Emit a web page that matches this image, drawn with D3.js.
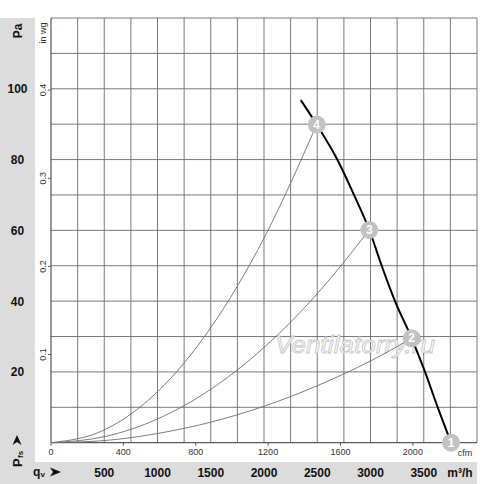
<!DOCTYPE html>
<html>
<head>
<meta charset="utf-8">
<script src="https://cdn.jsdelivr.net/npm/d3@7"></script>
<style>
  html, body { margin: 0; padding: 0; background: #fff; }
  svg { display: block; font-family: "Liberation Sans", Arial, sans-serif; }
</style>
</head>
<body>
<div id="chart"></div>
<script>
// flow in m³/h, pressure in Pa
const flowTicks = [500, 1000, 1500, 2000, 2500, 3000, 3500];
const cfmTicks = [0, 400, 800, 1200, 1600, 2000];
const paTicks = [20, 40, 60, 80, 100];
const inwgTicks = [0.1, 0.2, 0.3, 0.4];

const fanFlow = [2345, 2495, 2688, 2845, 2989, 3105, 3230, 3387, 3512, 3631, 3756];
const fanPressure = [96.8, 89.9, 80, 70, 60.1, 50, 40, 29.5, 20, 10, 0];

// system curves
const sys4Flow = [0, 500, 1000, 1500, 2000, 2495];
const sys4Pressure = [0, 3.6, 14.4, 32.5, 57.8, 89.9];
const sys3Flow = [0, 500, 1000, 1500, 2000, 2500, 2989];
const sys3Pressure = [0, 1.7, 6.7, 15.1, 26.9, 42.1, 60.1];
const sys2Flow = [0, 500, 1000, 1500, 2000, 2500, 3000, 3387];
const sys2Pressure = [0, 0.6, 2.6, 5.8, 10.3, 16.1, 23.1, 29.5];

const pointLabels = ["1", "2", "3", "4"];
const pointFlow = [3756, 3387, 2989, 2495];
const pointPressure = [0, 29.5, 60.1, 89.9];

const width = 500;
const height = 484;
const plot = { left: 51, right: 477, top: 18, bottom: 442.7 };

const maxFlow = 4000;
const maxPa = 120;

const x = d3.scaleLinear().domain([0, maxFlow]).range([plot.left, plot.right]);
const xCfm = d3.scaleLinear().domain([0, maxFlow / 1.699]).range([plot.left, plot.right]);
const y = d3.scaleLinear().domain([0, maxPa]).range([plot.bottom, plot.top]);
const yInwg = d3.scaleLinear().domain([0, maxPa / 249.09]).range([plot.bottom, plot.top]);

const svg = d3.select("#chart")
  .append("svg")
  .attr("width", width)
  .attr("height", height);

// gray label bands
svg.append("rect")
  .attr("x", 0).attr("y", plot.top)
  .attr("width", 35).attr("height", height - plot.top)
  .attr("fill", "#dcdcdc");

svg.append("rect")
  .attr("x", 0).attr("y", 462)
  .attr("width", plot.right).attr("height", 22)
  .attr("fill", "#dcdcdc");

// grid
const grid = svg.append("g").attr("stroke", "#6a6a6a").attr("stroke-width", 0.9);

grid.selectAll("line.v")
  .data(d3.range(250, maxFlow + 1, 250))
  .join("line")
  .attr("class", "v")
  .attr("x1", d => x(d)).attr("x2", d => x(d))
  .attr("y1", plot.top).attr("y2", plot.bottom);

grid.selectAll("line.h")
  .data(d3.range(10, maxPa + 1, 10))
  .join("line")
  .attr("class", "h")
  .attr("x1", plot.left).attr("x2", plot.right)
  .attr("y1", d => y(d)).attr("y2", d => y(d));

// axis lines
svg.append("line")
  .attr("x1", plot.left).attr("x2", plot.left)
  .attr("y1", plot.top).attr("y2", plot.bottom)
  .attr("stroke", "#333").attr("stroke-width", 1);

svg.append("line")
  .attr("x1", plot.left).attr("x2", plot.right)
  .attr("y1", plot.bottom).attr("y2", plot.bottom)
  .attr("stroke", "#333").attr("stroke-width", 1);

// watermark
svg.append("text")
  .attr("x", 275).attr("y", 353)
  .attr("textLength", 160)
  .attr("lengthAdjust", "spacingAndGlyphs")
  .attr("font-size", 23)
  .attr("font-style", "italic")
  .attr("fill", "#fafafa")
  .attr("stroke", "#c8c8c8")
  .attr("stroke-width", 0.8)
  .text("Ventilatorry.ru");

// curves
const line = d3.line()
  .x(d => x(d[0]))
  .y(d => y(d[1]))
  .curve(d3.curveMonotoneX);

[[sys4Flow, sys4Pressure], [sys3Flow, sys3Pressure], [sys2Flow, sys2Pressure]].forEach(([qs, ps]) => {
  svg.append("path")
    .attr("d", line(d3.zip(qs, ps)))
    .attr("fill", "none")
    .attr("stroke", "#6e6e6e")
    .attr("stroke-width", 0.9);
});

svg.append("path")
  .attr("d", line(d3.zip(fanFlow, fanPressure)))
  .attr("fill", "none")
  .attr("stroke", "#000")
  .attr("stroke-width", 2);

// operating points
const points = svg.append("g")
  .selectAll("g")
  .data(d3.zip(pointLabels, pointFlow, pointPressure))
  .join("g")
  .attr("transform", d => `translate(${x(d[1])},${y(d[2])})`);

points.append("circle")
  .attr("r", 9)
  .attr("fill", "#c2c2c2");

points.append("text")
  .attr("y", 4)
  .attr("text-anchor", "middle")
  .attr("font-size", 12)
  .attr("font-weight", "bold")
  .attr("fill", "#fff")
  .text(d => d[0]);

// Pa labels
svg.append("g")
  .selectAll("text")
  .data(paTicks)
  .join("text")
  .attr("x", 17.5)
  .attr("y", d => y(d) + 4.5)
  .attr("text-anchor", "middle")
  .attr("font-size", 12)
  .attr("font-weight", "bold")
  .attr("fill", "#111")
  .text(d => d);

svg.append("text")
  .attr("transform", "translate(21.5,31) rotate(-90)")
  .attr("text-anchor", "middle")
  .attr("font-size", 12)
  .attr("font-weight", "bold")
  .attr("fill", "#111")
  .text("Pa");

// Pfs label with arrow
const pfs = svg.append("g").attr("transform", "translate(21.5,467) rotate(-90)");
pfs.append("text")
  .attr("x", 0).attr("y", 0)
  .attr("font-size", 13)
  .attr("font-weight", "bold")
  .attr("fill", "#111")
  .text("P");
pfs.append("text")
  .attr("x", 9).attr("y", 1)
  .attr("font-size", 8)
  .attr("font-weight", "bold")
  .attr("fill", "#111")
  .text("fs");
pfs.append("path")
  .attr("d", "M22,-9 L32,-4.5 L22,0 L25,-4.5 Z")
  .attr("fill", "#111");

// in wg ticks and labels
svg.append("g")
  .selectAll("line")
  .data(inwgTicks)
  .join("line")
  .attr("x1", plot.left - 3).attr("x2", plot.left)
  .attr("y1", d => yInwg(d)).attr("y2", d => yInwg(d))
  .attr("stroke", "#555");

svg.append("g")
  .selectAll("text")
  .data(inwgTicks)
  .join("text")
  .attr("transform", d => `translate(46,${yInwg(d)}) rotate(-90)`)
  .attr("text-anchor", "middle")
  .attr("font-size", 9)
  .attr("fill", "#333")
  .text(d => d.toFixed(1));

svg.append("text")
  .attr("transform", "translate(46,33) rotate(-90)")
  .attr("text-anchor", "middle")
  .attr("font-size", 9)
  .attr("fill", "#333")
  .text("in wg");

// cfm axis
const cfmAxis = svg.append("g");
cfmAxis.selectAll("line")
  .data(cfmTicks)
  .join("line")
  .attr("x1", d => xCfm(d)).attr("x2", d => xCfm(d))
  .attr("y1", plot.bottom).attr("y2", plot.bottom + 3)
  .attr("stroke", "#555");
cfmAxis.selectAll("text")
  .data(cfmTicks)
  .join("text")
  .attr("x", d => xCfm(d))
  .attr("y", 455)
  .attr("text-anchor", "middle")
  .attr("font-size", 9)
  .attr("fill", "#333")
  .text(d => d);

svg.append("text")
  .attr("x", 465).attr("y", 456)
  .attr("text-anchor", "middle")
  .attr("font-size", 9)
  .attr("fill", "#333")
  .text("cfm");

// m³/h labels
svg.append("g")
  .selectAll("text")
  .data(flowTicks)
  .join("text")
  .attr("x", d => x(d))
  .attr("y", 477)
  .attr("text-anchor", "middle")
  .attr("font-size", 12)
  .attr("font-weight", "bold")
  .attr("fill", "#111")
  .text(d => d);

svg.append("text")
  .attr("x", 460).attr("y", 477)
  .attr("text-anchor", "middle")
  .attr("font-size", 12)
  .attr("font-weight", "bold")
  .attr("fill", "#111")
  .text("m³/h");

svg.append("text")
  .attr("x", 33).attr("y", 476)
  .attr("font-size", 12)
  .attr("font-weight", "bold")
  .attr("fill", "#111")
  .text("q");
svg.append("text")
  .attr("x", 40.5).attr("y", 477)
  .attr("font-size", 8)
  .attr("font-weight", "bold")
  .attr("fill", "#111")
  .text("v");
svg.append("path")
  .attr("d", "M50,467.5 L61,472 L50,476.5 L53,472 Z")
  .attr("fill", "#111");
</script>
</body>
</html>
